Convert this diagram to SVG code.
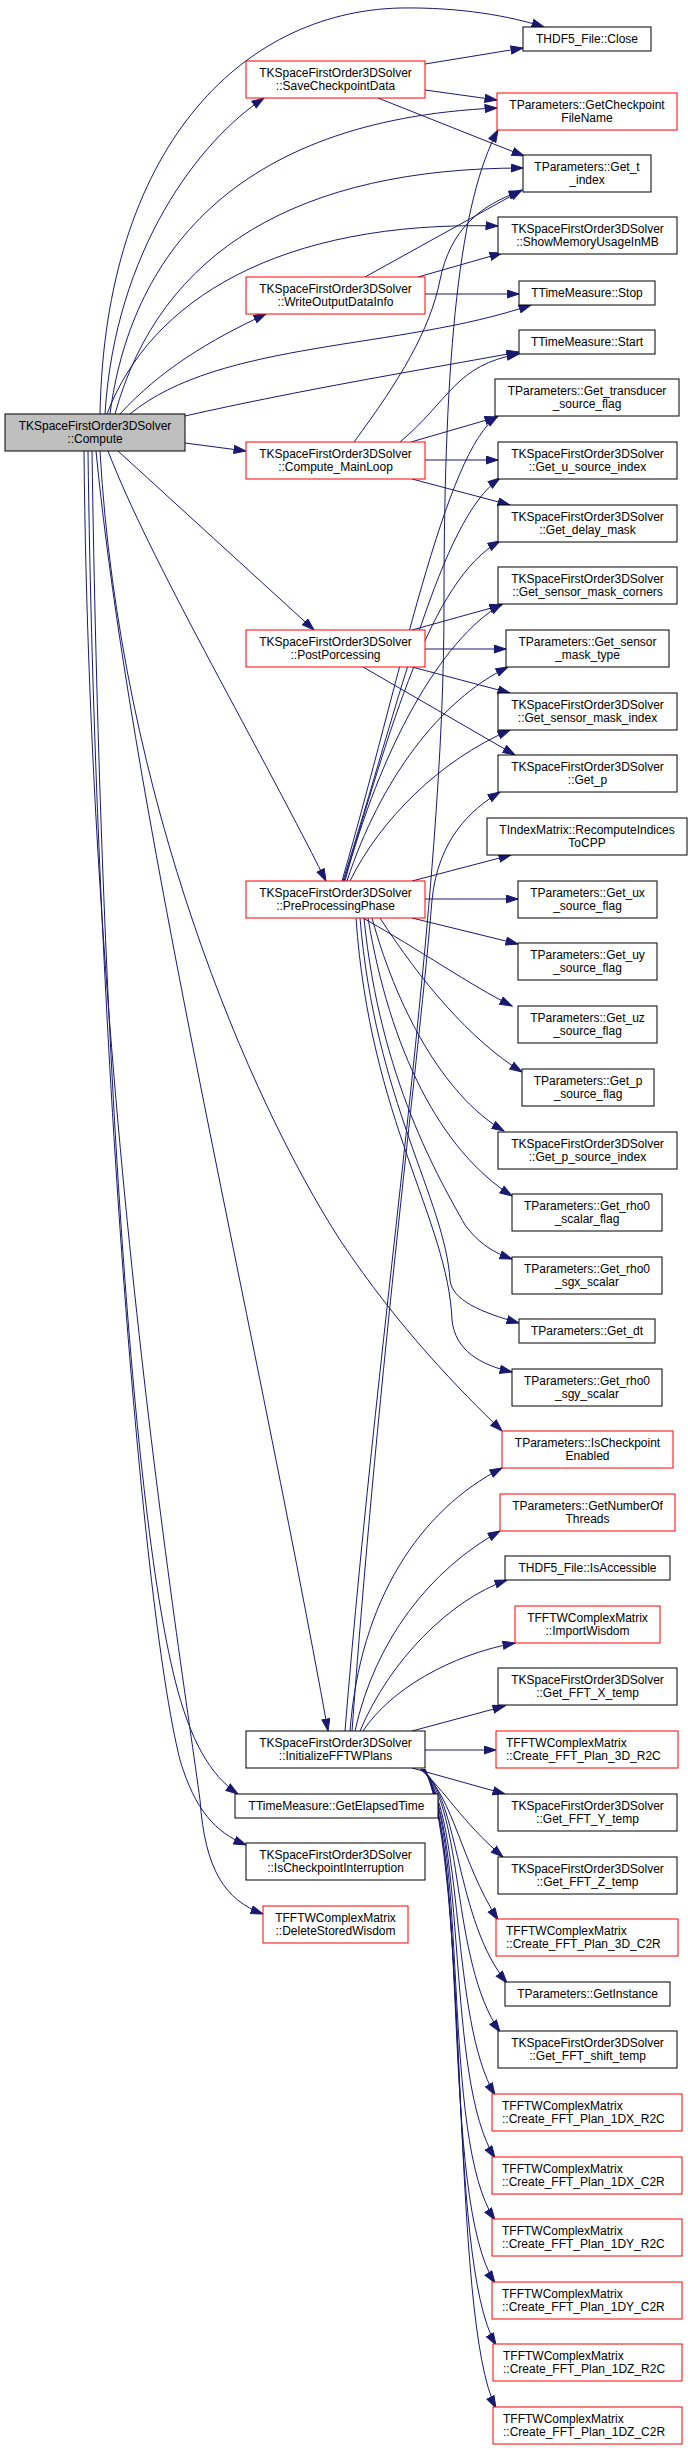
<svg xmlns="http://www.w3.org/2000/svg" width="688" height="2450" viewBox="0 0 688 2450">
<defs>
<marker id="a" markerUnits="userSpaceOnUse" markerWidth="14" markerHeight="10" refX="12.5" refY="4.5" orient="auto">
<path d="M0.5,0.5 L12.5,4.5 L0.5,8.5 z" fill="#191970" stroke="#191970" stroke-width="1"/>
</marker>
<style>
.n rect{fill:#ffffff;stroke:#000000;stroke-width:1}
.r rect{stroke:#ff0000}
.g rect{fill:#bfbfbf}
text{font-family:"Liberation Sans",Arial,Helvetica,sans-serif;font-size:12px;fill:#000000;text-anchor:middle}
.l text{text-anchor:start}
#edges path{fill:none;stroke:#191970;stroke-width:1;marker-end:url(#a)}
</style>
</defs>
<rect x="0" y="0" width="688" height="2450" fill="#ffffff"/>
<g id="edges">
<!-- Compute -->
<path d="M100,414 C105,150 240,12 400,8 C460,7 510,16 544,27"/>
<path d="M105,414 C115,250 200,140 264,98"/>
<path d="M110,414 C130,260 230,120 497,108"/>
<path d="M115,414 C160,250 300,168 523,168"/>
<path d="M107,414 C150,300 280,220 498,226"/>
<path d="M120,414 C160,370 210,340 266,314"/>
<path d="M130,414 C220,340 400,350 531,305"/>
<path d="M185,416 C300,390 420,370 519,352"/>
<path d="M185,443 L246,451"/>
<path d="M118,451 L314,630"/>
<path d="M108,451 C150,560 250,730 326,881"/>
<path d="M100,451 C120,800 250,1100 340,1240 C400,1330 460,1390 502,1431"/>
<path d="M96,451 C130,800 250,1300 328,1731"/>
<path d="M92,451 C100,1000 130,1500 175,1680 C190,1740 210,1775 238,1794"/>
<path d="M88,451 C95,1000 140,1600 180,1760 C195,1810 215,1832 246,1845"/>
<path d="M84,451 C90,1100 180,1650 200,1800 C205,1870 225,1900 263,1914"/>
<!-- SaveCheckpointData -->
<path d="M425,64 L523,48"/>
<path d="M425,90 L497,100"/>
<path d="M378,98 L524,156"/>
<!-- WriteOutputDataInfo -->
<path d="M365,277 L522,190"/>
<path d="M418,277 L502,253"/>
<path d="M425,294 L519,294"/>
<!-- Compute_MainLoop -->
<path d="M354,442 C400,380 430,330 440,280 C450,230 480,205 521,191"/>
<path d="M400,442 C450,400 455,365 519,354"/>
<path d="M411,442 L497,417"/>
<path d="M425,460 L498,460"/>
<path d="M412,479 L510,505"/>
<!-- PostPorcessing -->
<path d="M412,630 L502,605"/>
<path d="M425,649 L506,649"/>
<path d="M412,667 L510,693"/>
<path d="M363,667 L515,755"/>
<!-- PreProcessingPhase -->
<path d="M342,881 C400,680 445,450 498,416"/>
<path d="M343,881 C400,700 440,520 500,478"/>
<path d="M344,881 C390,730 430,580 500,541"/>
<path d="M345,881 C380,750 440,640 502,604"/>
<path d="M347,881 C380,780 440,700 508,667"/>
<path d="M350,881 C380,820 440,760 510,730"/>
<path d="M412,881 L511,855"/>
<path d="M425,899 L518,899"/>
<path d="M412,918 L518,944"/>
<path d="M363,918 C420,950 470,985 512,1006"/>
<path d="M380,918 C420,980 470,1040 522,1072"/>
<path d="M372,918 C400,1020 450,1100 504,1131"/>
<path d="M368,918 C390,1050 440,1150 512,1196"/>
<path d="M364,918 C380,1080 440,1180 465,1225 C480,1245 495,1253 512,1259"/>
<path d="M360,918 C375,1100 445,1200 450,1280 C452,1300 480,1312 519,1323"/>
<path d="M356,918 C370,1120 448,1220 452,1320 C455,1350 480,1365 512,1372"/>
<!-- InitializeFFTWPlans -->
<path d="M345,1731 C380,1300 445,900 444,600 C444,350 460,200 498,130"/>
<path d="M352,1731 C380,1350 420,1050 432,900 C438,840 470,810 500,792"/>
<path d="M350,1731 C360,1600 420,1510 502,1468"/>
<path d="M355,1731 C375,1640 430,1570 500,1531"/>
<path d="M360,1731 C390,1660 450,1600 507,1580"/>
<path d="M363,1731 C390,1690 450,1655 515,1643"/>
<path d="M412,1731 L505,1706"/>
<path d="M425,1750 L496,1750"/>
<path d="M412,1768 L505,1794"/>
<path d="M420,1769 C445,1790 460,1820 503,1857"/>
<path d="M421,1769 C455,1800 460,1860 498,1920"/>
<path d="M422,1769 C460,1800 455,1920 507,1983"/>
<path d="M422,1769 C465,1810 450,1960 500,2032"/>
<path d="M423,1769 C465,1820 450,2020 495,2095"/>
<path d="M423,1769 C468,1830 445,2080 495,2158"/>
<path d="M424,1769 C470,1840 440,2140 495,2220"/>
<path d="M424,1769 C470,1850 440,2200 495,2283"/>
<path d="M425,1769 C470,1860 445,2260 496,2345"/>
<path d="M425,1769 C470,1870 450,2320 496,2408"/>
</g>
<!-- left / middle nodes -->
<g id="compute" class="n g"><rect x="5" y="414" width="180" height="37"/><text x="95" y="429.5">TKSpaceFirstOrder3DSolver</text><text x="95" y="442.5">::Compute</text></g>
<g id="save" class="n r"><rect x="246" y="61" width="179" height="37"/><text x="335.5" y="76.5">TKSpaceFirstOrder3DSolver</text><text x="335.5" y="89.5">::SaveCheckpointData</text></g>
<g id="write" class="n r"><rect x="246" y="277" width="179" height="37"/><text x="335.5" y="292.5">TKSpaceFirstOrder3DSolver</text><text x="335.5" y="305.5">::WriteOutputDataInfo</text></g>
<g id="mainloop" class="n r"><rect x="246" y="442" width="179" height="37"/><text x="335.5" y="457.5">TKSpaceFirstOrder3DSolver</text><text x="335.5" y="470.5">::Compute_MainLoop</text></g>
<g id="post" class="n r"><rect x="246" y="630" width="179" height="37"/><text x="335.5" y="645.5">TKSpaceFirstOrder3DSolver</text><text x="335.5" y="658.5">::PostPorcessing</text></g>
<g id="pre" class="n r"><rect x="246" y="881" width="179" height="37"/><text x="335.5" y="896.5">TKSpaceFirstOrder3DSolver</text><text x="335.5" y="909.5">::PreProcessingPhase</text></g>
<g id="initfftw" class="n"><rect x="246" y="1731" width="179" height="37"/><text x="335.5" y="1746.5">TKSpaceFirstOrder3DSolver</text><text x="335.5" y="1759.5">::InitializeFFTWPlans</text></g>
<g id="elapsed" class="n"><rect x="235" y="1794" width="203" height="24"/><text x="336.5" y="1810">TTimeMeasure::GetElapsedTime</text></g>
<g id="interruption" class="n"><rect x="246" y="1843" width="179" height="37"/><text x="335.5" y="1858.5">TKSpaceFirstOrder3DSolver</text><text x="335.5" y="1871.5">::IsCheckpointInterruption</text></g>
<g id="deletewisdom" class="n r"><rect x="263" y="1906" width="145" height="37"/><text x="335.5" y="1921.5">TFFTWComplexMatrix</text><text x="335.5" y="1934.5">::DeleteStoredWisdom</text></g>
<!-- right column -->
<g id="close" class="n"><rect x="523" y="27" width="128" height="24"/><text x="587" y="43">THDF5_File::Close</text></g>
<g id="getckptfn" class="n r"><rect x="497" y="93" width="180" height="37"/><text x="587" y="108.5">TParameters::GetCheckpoint</text><text x="587" y="121.5">FileName</text></g>
<g id="get_t_index" class="n"><rect x="523" y="155" width="128" height="37"/><text x="587" y="170.5">TParameters::Get_t</text><text x="587" y="183.5">_index</text></g>
<g id="showmem" class="n"><rect x="498" y="217" width="179" height="37"/><text x="587.5" y="232.5">TKSpaceFirstOrder3DSolver</text><text x="587.5" y="245.5">::ShowMemoryUsageInMB</text></g>
<g id="stop" class="n"><rect x="519" y="281" width="136" height="24"/><text x="587" y="297">TTimeMeasure::Stop</text></g>
<g id="start" class="n"><rect x="519" y="330" width="136" height="24"/><text x="587" y="346">TTimeMeasure::Start</text></g>
<g id="transducer" class="n"><rect x="495" y="379" width="184" height="37"/><text x="587" y="394.5">TParameters::Get_transducer</text><text x="587" y="407.5">_source_flag</text></g>
<g id="u_source_index" class="n"><rect x="498" y="442" width="179" height="37"/><text x="587.5" y="457.5">TKSpaceFirstOrder3DSolver</text><text x="587.5" y="470.5">::Get_u_source_index</text></g>
<g id="delay_mask" class="n"><rect x="498" y="505" width="179" height="37"/><text x="587.5" y="520.5">TKSpaceFirstOrder3DSolver</text><text x="587.5" y="533.5">::Get_delay_mask</text></g>
<g id="corners" class="n"><rect x="498" y="567" width="179" height="37"/><text x="587.5" y="582.5">TKSpaceFirstOrder3DSolver</text><text x="587.5" y="595.5">::Get_sensor_mask_corners</text></g>
<g id="mask_type" class="n"><rect x="506" y="630" width="163" height="37"/><text x="587.5" y="645.5">TParameters::Get_sensor</text><text x="587.5" y="658.5">_mask_type</text></g>
<g id="mask_index" class="n"><rect x="498" y="693" width="179" height="37"/><text x="587.5" y="708.5">TKSpaceFirstOrder3DSolver</text><text x="587.5" y="721.5">::Get_sensor_mask_index</text></g>
<g id="get_p" class="n"><rect x="498" y="755" width="179" height="37"/><text x="587.5" y="770.5">TKSpaceFirstOrder3DSolver</text><text x="587.5" y="783.5">::Get_p</text></g>
<g id="recompute" class="n"><rect x="487" y="818" width="200" height="37"/><text x="587" y="833.5">TIndexMatrix::RecomputeIndices</text><text x="587" y="846.5">ToCPP</text></g>
<g id="ux" class="n"><rect x="518" y="881" width="139" height="37"/><text x="587.5" y="896.5">TParameters::Get_ux</text><text x="587.5" y="909.5">_source_flag</text></g>
<g id="uy" class="n"><rect x="518" y="943" width="139" height="37"/><text x="587.5" y="958.5">TParameters::Get_uy</text><text x="587.5" y="971.5">_source_flag</text></g>
<g id="uz" class="n"><rect x="518" y="1006" width="139" height="37"/><text x="587.5" y="1021.5">TParameters::Get_uz</text><text x="587.5" y="1034.5">_source_flag</text></g>
<g id="p_source_flag" class="n"><rect x="522" y="1069" width="132" height="37"/><text x="588" y="1084.5">TParameters::Get_p</text><text x="588" y="1097.5">_source_flag</text></g>
<g id="p_source_index" class="n"><rect x="498" y="1132" width="179" height="37"/><text x="587.5" y="1147.5">TKSpaceFirstOrder3DSolver</text><text x="587.5" y="1160.5">::Get_p_source_index</text></g>
<g id="rho0_scalar_flag" class="n"><rect x="512" y="1194" width="150" height="37"/><text x="587" y="1209.5">TParameters::Get_rho0</text><text x="587" y="1222.5">_scalar_flag</text></g>
<g id="rho0_sgx" class="n"><rect x="512" y="1257" width="150" height="37"/><text x="587" y="1272.5">TParameters::Get_rho0</text><text x="587" y="1285.5">_sgx_scalar</text></g>
<g id="dt" class="n"><rect x="519" y="1319" width="136" height="24"/><text x="587" y="1335">TParameters::Get_dt</text></g>
<g id="rho0_sgy" class="n"><rect x="512" y="1369" width="150" height="37"/><text x="587" y="1384.5">TParameters::Get_rho0</text><text x="587" y="1397.5">_sgy_scalar</text></g>
<g id="isckptenabled" class="n r"><rect x="502" y="1431" width="171" height="37"/><text x="587.5" y="1446.5">TParameters::IsCheckpoint</text><text x="587.5" y="1459.5">Enabled</text></g>
<g id="numthreads" class="n r"><rect x="500" y="1494" width="175" height="37"/><text x="587.5" y="1509.5">TParameters::GetNumberOf</text><text x="587.5" y="1522.5">Threads</text></g>
<g id="isaccessible" class="n"><rect x="505" y="1556" width="165" height="24"/><text x="587.5" y="1572">THDF5_File::IsAccessible</text></g>
<g id="importwisdom" class="n r"><rect x="515" y="1606" width="145" height="37"/><text x="587.5" y="1621.5">TFFTWComplexMatrix</text><text x="587.5" y="1634.5">::ImportWisdom</text></g>
<g id="fft_x" class="n"><rect x="498" y="1668" width="179" height="37"/><text x="587.5" y="1683.5">TKSpaceFirstOrder3DSolver</text><text x="587.5" y="1696.5">::Get_FFT_X_temp</text></g>
<g id="plan3d_r2c" class="n r l"><rect x="496" y="1731" width="182" height="37"/><text x="506" y="1746.5">TFFTWComplexMatrix</text><text x="506" y="1759.5">::Create_FFT_Plan_3D_R2C</text></g>
<g id="fft_y" class="n"><rect x="498" y="1794" width="179" height="37"/><text x="587.5" y="1809.5">TKSpaceFirstOrder3DSolver</text><text x="587.5" y="1822.5">::Get_FFT_Y_temp</text></g>
<g id="fft_z" class="n"><rect x="498" y="1857" width="179" height="37"/><text x="587.5" y="1872.5">TKSpaceFirstOrder3DSolver</text><text x="587.5" y="1885.5">::Get_FFT_Z_temp</text></g>
<g id="plan3d_c2r" class="n r l"><rect x="496" y="1919" width="182" height="37"/><text x="506" y="1934.5">TFFTWComplexMatrix</text><text x="506" y="1947.5">::Create_FFT_Plan_3D_C2R</text></g>
<g id="getinstance" class="n"><rect x="505" y="1982" width="165" height="24"/><text x="587.5" y="1998">TParameters::GetInstance</text></g>
<g id="fft_shift" class="n"><rect x="498" y="2031" width="179" height="37"/><text x="587.5" y="2046.5">TKSpaceFirstOrder3DSolver</text><text x="587.5" y="2059.5">::Get_FFT_shift_temp</text></g>
<g id="plan1dx_r2c" class="n r l"><rect x="492" y="2094" width="190" height="37"/><text x="502" y="2109.5">TFFTWComplexMatrix</text><text x="502" y="2122.5">::Create_FFT_Plan_1DX_R2C</text></g>
<g id="plan1dx_c2r" class="n r l"><rect x="492" y="2157" width="190" height="37"/><text x="502" y="2172.5">TFFTWComplexMatrix</text><text x="502" y="2185.5">::Create_FFT_Plan_1DX_C2R</text></g>
<g id="plan1dy_r2c" class="n r l"><rect x="492" y="2219" width="190" height="37"/><text x="502" y="2234.5">TFFTWComplexMatrix</text><text x="502" y="2247.5">::Create_FFT_Plan_1DY_R2C</text></g>
<g id="plan1dy_c2r" class="n r l"><rect x="492" y="2282" width="190" height="37"/><text x="502" y="2297.5">TFFTWComplexMatrix</text><text x="502" y="2310.5">::Create_FFT_Plan_1DY_C2R</text></g>
<g id="plan1dz_r2c" class="n r l"><rect x="493" y="2344" width="189" height="37"/><text x="503" y="2359.5">TFFTWComplexMatrix</text><text x="503" y="2372.5">::Create_FFT_Plan_1DZ_R2C</text></g>
<g id="plan1dz_c2r" class="n r l"><rect x="493" y="2407" width="189" height="37"/><text x="503" y="2422.5">TFFTWComplexMatrix</text><text x="503" y="2435.5">::Create_FFT_Plan_1DZ_C2R</text></g>
</svg>
